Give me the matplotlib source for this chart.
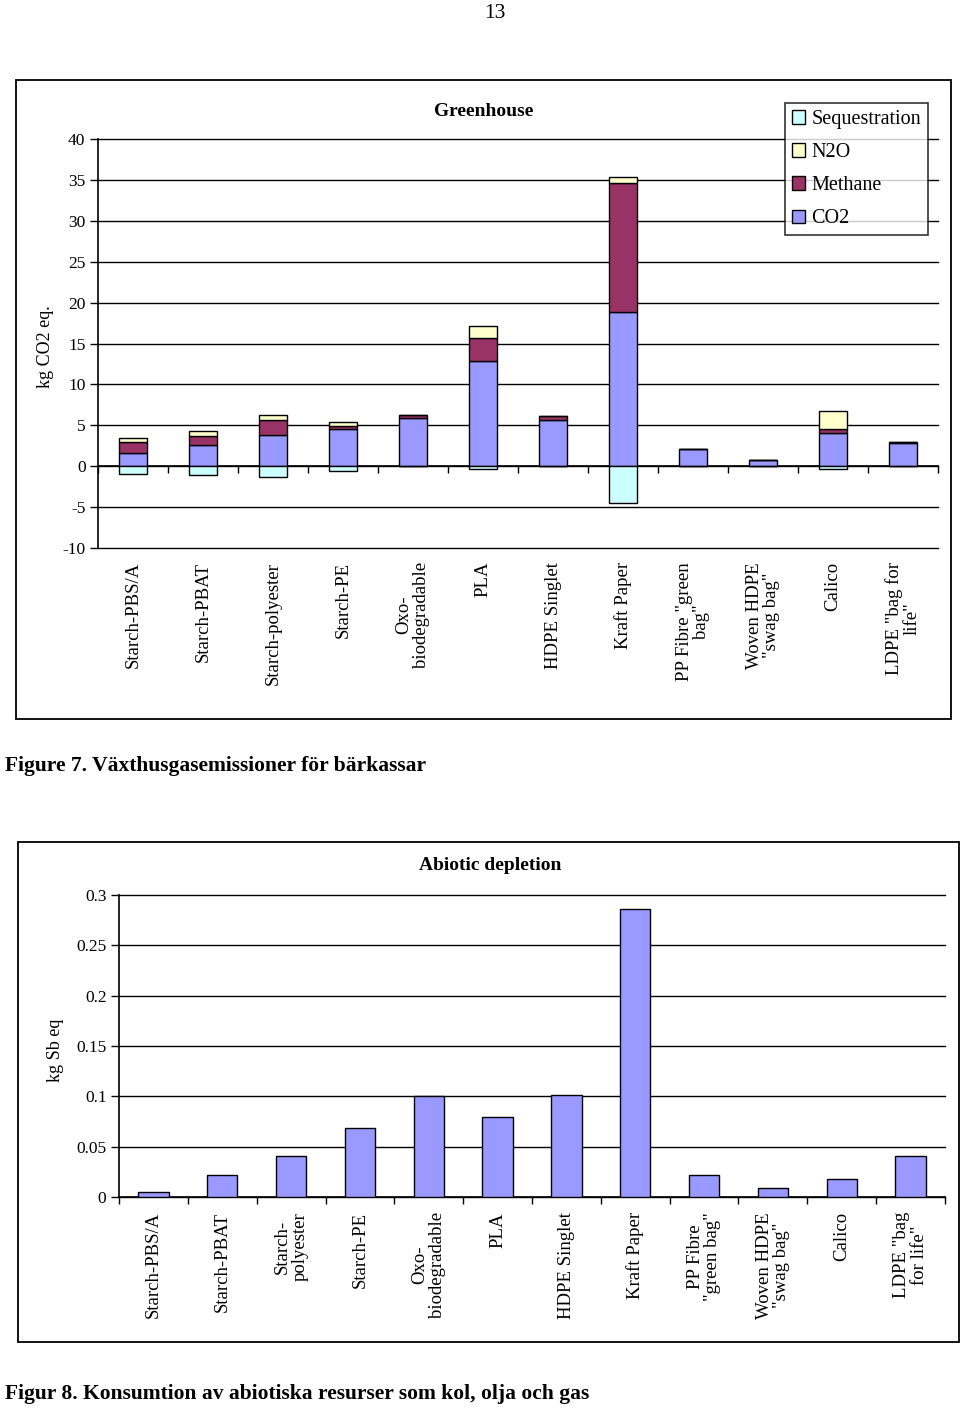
# Two bar charts from the carrier bag report: greenhouse gases (stacked) and abiotic depletion

import numpy as np
import matplotlib.pyplot as plt
from matplotlib.patches import Rectangle
from matplotlib.transforms import blended_transform_factory

plt.rcParams['font.family'] = ['Liberation Serif', 'DejaVu Serif']
plt.rcParams['axes.unicode_minus'] = False  # plain hyphen like the original

# bag types on the x axis (line breaks as in the original figure)
top_labels = ["Starch-PBS/A", "Starch-PBAT", "Starch-polyester", "Starch-PE",
              "Oxo-\nbiodegradable", "PLA", "HDPE Singlet", "Kraft Paper",
              "PP Fibre \"green\nbag\"", "Woven HDPE\n\"swag bag\"", "Calico",
              "LDPE \"bag for\nlife\""]
bottom_labels = ["Starch-PBS/A", "Starch-PBAT", "Starch-\npolyester", "Starch-PE",
                 "Oxo-\nbiodegradable", "PLA", "HDPE Singlet", "Kraft Paper",
                 "PP Fibre\n\"green bag\"", "Woven HDPE\n\"swag bag\"", "Calico",
                 "LDPE \"bag\nfor life\""]

# greenhouse gas values, kg CO2 eq.
co2 = [1.6, 2.6, 3.8, 4.5, 5.9, 12.8, 5.7, 18.9, 2.05, 0.8, 4.0, 2.8]
methane = [1.3, 1.1, 1.8, 0.45, 0.35, 2.9, 0.4, 15.7, 0.0, 0.0, 0.6, 0.15]
n2o = [0.6, 0.6, 0.65, 0.45, 0.05, 1.5, 0.0, 0.75, 0.0, 0.0, 2.15, 0.0]
sequestration = [-0.9, -1.1, -1.3, -0.55, 0.0, -0.3, 0.0, -4.5, 0.0, 0.0, -0.3, 0.0]

# abiotic depletion, kg Sb eq
abiotic = [0.005, 0.022, 0.041, 0.069, 0.1, 0.079, 0.101, 0.286, 0.022, 0.009, 0.018, 0.041]

top_yticks = [-10, -5, 0, 5, 10, 15, 20, 25, 30, 35, 40]
bottom_yticks = [0, 0.05, 0.1, 0.15, 0.2, 0.25, 0.3]
bottom_yticklabels = ["0", "0.05", "0.1", "0.15", "0.2", "0.25", "0.3"]

# excel-ish colours
c_co2 = "#9999FF"
c_methane = "#993366"
c_n2o = "#FFFFCC"
c_seq = "#CCFFFF"

W, H = 960, 1409
fig = plt.figure(figsize=(W / 100, H / 100), dpi=100)


def fx(px):
    return px / W


def fy(py):
    return 1 - py / H


# page number and the frames around the two charts
fig.text(fx(495), fy(13), "13", ha="center", va="center", fontsize=15.5)
fig.add_artist(Rectangle((fx(16), fy(719)), fx(951) - fx(16), fy(80) - fy(719),
                         transform=fig.transFigure, fill=False, lw=1.3, ec="black"))
fig.add_artist(Rectangle((fx(18), fy(1342)), fx(959) - fx(18), fy(842) - fy(1342),
                         transform=fig.transFigure, fill=False, lw=1.3, ec="black"))


def style_axes(ax, n, labels, label_y):
    # gridlines, outward ticks and the rotated category labels
    ax.set_xlim(-0.5, n - 0.5)
    ax.set_axisbelow(True)
    ax.yaxis.grid(True, color="black", lw=1)
    for gl in ax.get_ygridlines():
        gl.set_clip_on(False)
    ax.spines['top'].set_visible(False)
    ax.spines['right'].set_visible(False)
    ax.spines['left'].set_linewidth(1.2)
    ax.spines['bottom'].set_linewidth(1.2)
    ax.set_xticks(np.arange(n + 1) - 0.5)
    ax.set_xticklabels([])
    ax.tick_params(axis="x", direction="out", length=5, width=1)
    ax.tick_params(axis="y", direction="out", length=6, width=1, labelsize=12.5, pad=3)
    trans = blended_transform_factory(ax.transData, ax.transAxes)
    x = np.arange(n)
    for xi, lab in zip(x, labels):
        ax.text(xi, label_y, lab, rotation=90, ha="center", va="top",
                multialignment="center", fontsize=13.5, linespacing=1.05,
                transform=trans)


# ---------- Figure 7: greenhouse ----------
ax1 = fig.add_axes([fx(98), fy(548), fx(938) - fx(98), fy(139) - fy(548)])
x = np.arange(len(co2))
w = 0.4
bot_m = np.array(co2)
bot_n = bot_m + np.array(methane)
ax1.bar(x, co2, w, color=c_co2, edgecolor="black", lw=1, label="CO2", zorder=3)
ax1.bar(x, methane, w, bottom=bot_m, color=c_methane, edgecolor="black", lw=1,
        label="Methane", zorder=3)
ax1.bar(x, n2o, w, bottom=bot_n, color=c_n2o, edgecolor="black", lw=1,
        label="N2O", zorder=3)
ax1.bar(x, sequestration, w, color=c_seq, edgecolor="black", lw=1,
        label="Sequestration", zorder=3)
ax1.set_ylim(-10, 40)
ax1.set_yticks(top_yticks)
ax1.spines['bottom'].set_position(('data', 0))
style_axes(ax1, len(co2), top_labels, -0.034)

fig.text(fx(484), fy(111), "Greenhouse", ha="center", va="center",
         fontsize=14, fontweight="bold")
fig.text(fx(45), fy(347), "kg CO2 eq.", ha="center", va="center",
         rotation=90, fontsize=13)

# legend in reverse stacking order like the original
handles, labs = ax1.get_legend_handles_labels()
leg = fig.legend(handles[::-1], labs[::-1], loc="upper right",
                 bbox_to_anchor=(fx(928), fy(103)), fontsize=14.5,
                 frameon=True, fancybox=False, edgecolor="black",
                 handlelength=0.65, handleheight=0.65, handletextpad=0.3,
                 labelspacing=0.7, borderpad=0.35, borderaxespad=0)
leg.get_frame().set_linewidth(1.2)

fig.text(fx(5), fy(766), "Figure 7. Växthusgasemissioner för bärkassar",
         ha="left", va="center", fontsize=15.5, fontweight="bold")

# ---------- Figure 8: abiotic depletion ----------
ax2 = fig.add_axes([fx(119), fy(1197), fx(945) - fx(119), fy(895) - fy(1197)])
ax2.bar(np.arange(len(abiotic)), abiotic, 0.44, color=c_co2, edgecolor="black",
        lw=1, zorder=3)
ax2.set_ylim(0, 0.3)
ax2.set_yticks(bottom_yticks)
ax2.set_yticklabels(bottom_yticklabels)
style_axes(ax2, len(abiotic), bottom_labels, -0.05)

fig.text(fx(490), fy(865), "Abiotic depletion", ha="center", va="center",
         fontsize=14, fontweight="bold")
fig.text(fx(55), fy(1050), "kg Sb eq", ha="center", va="center",
         rotation=90, fontsize=13)

fig.text(fx(5), fy(1394), "Figur 8. Konsumtion av abiotiska resurser som kol, olja och gas",
         ha="left", va="center", fontsize=15.5, fontweight="bold")

plt.savefig("out.png", dpi=100)
